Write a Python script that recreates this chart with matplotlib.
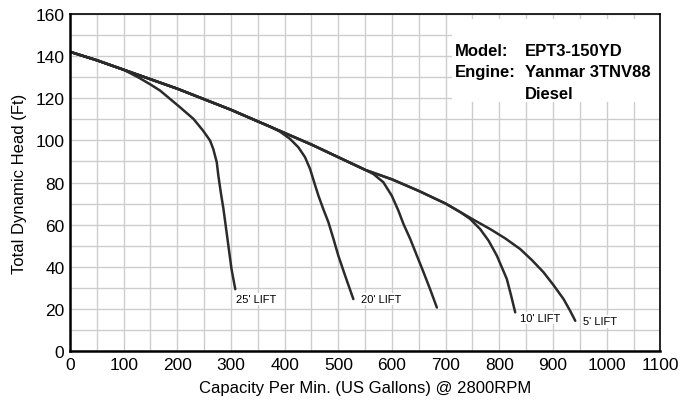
import matplotlib
matplotlib.use("Agg")
import matplotlib.pyplot as plt
from matplotlib.patches import Rectangle

plt.rcParams["font.family"] = ["Liberation Sans", "DejaVu Sans"]

# shared part of the pump curve (before the lift curves split off)
env_x = [0, 50, 100, 150, 200, 250, 300, 350, 400, 450, 500, 550, 600, 650, 700, 727]
env_y = [142, 138, 133.5, 129, 124.5, 119.5, 114.5, 109, 103.5, 98, 92, 86, 81.5, 76, 70, 66]

# tails of each lift curve
lift25_x = [100, 130, 150, 168, 205, 230, 248, 261, 267, 273.5, 276.5, 281, 286, 291, 296, 301, 308]
lift25_y = [133.5, 129.5, 126.5, 123.6, 115.7, 110.2, 104.6, 99.9, 95.9, 89.6, 83.2, 75.3, 67.4, 57.9, 48.4, 38.9, 29.4]
lift20_x = [373, 391.5, 410, 425.6, 438, 447.4, 455, 463, 472, 481.6, 491, 500, 512.7, 528]
lift20_y = [106.5, 104.1, 100.7, 96.7, 92, 86.4, 80.1, 73.7, 67.4, 61.1, 53.2, 45.3, 35.8, 24.7]
lift15_x = [547, 565.5, 584, 599.7, 612, 621.4, 634, 646.4, 658.8, 671, 683.6]
lift15_y = [86.4, 84, 80.1, 73.7, 66.6, 60.3, 53.2, 45.3, 37.4, 29.4, 20.7]
lift10_x = [727, 745.7, 764.3, 780, 795.4, 804.8, 814, 822, 829.6]
lift10_y = [66, 62.7, 57.9, 52.4, 45.3, 39.7, 34.2, 26.3, 18.4]
lift5_x = [727, 755, 783, 811, 839, 860.7, 882.4, 901, 919.7, 932, 941.5]
lift5_y = [66, 61.9, 57.9, 53.5, 48.4, 43.2, 37.4, 31.3, 24.7, 19.1, 14.4]

labels = ["25' LIFT", "20' LIFT", "10' LIFT", "5' LIFT"]
label_x = [309, 542, 839, 955]
label_y = [24.7, 24.7, 15.7, 14.1]


def branch(tx, ty):
    # shared envelope up to the split point, then the lift tail
    xs = [x for x in env_x if x < tx[0]] + tx
    ys = [y for x, y in zip(env_x, env_y) if x < tx[0]] + ty
    return xs, ys


fig = plt.figure(figsize=(6.97, 4.02), dpi=100)
ax = fig.add_axes([0.1004, 0.124, 0.847, 0.839])

ax.set_xlim(0, 1100)
ax.set_ylim(0, 160)
ax.set_xticks(range(0, 1101, 100))
ax.set_yticks(range(0, 161, 20))
ax.set_xticks(range(0, 1101, 50), minor=True)
ax.set_yticks(range(0, 161, 10), minor=True)
ax.grid(which="both", color="#cdcdcd", linewidth=1.0)
ax.set_axisbelow(True)
ax.tick_params(which="both", length=0)
ax.tick_params(axis="both", labelsize=12.5, pad=4)

for tx, ty in [(lift25_x, lift25_y), (lift20_x, lift20_y), (lift15_x, lift15_y),
               (lift10_x, lift10_y), (lift5_x, lift5_y)]:
    xs, ys = branch(tx, ty)
    ax.plot(xs, ys, color="#2b2b2b", linewidth=1.8,
            solid_capstyle="round", solid_joinstyle="round")

for t, x, y in zip(labels, label_x, label_y):
    ax.text(x, y, t, fontsize=8, ha="left", va="center",
            bbox=dict(facecolor="white", edgecolor="none", pad=1))

# white panel with model info
ax.add_patch(Rectangle((712, 118), 388, 39.5, facecolor="white",
                       edgecolor="none", zorder=2))
info = dict(fontsize=12, fontweight="bold", va="center", zorder=3)
ax.text(718, 142.6, "Model:", **info)
ax.text(847, 142.6, "EPT3-150YD", **info)
ax.text(718, 132.6, "Engine:", **info)
ax.text(847, 132.6, "Yanmar 3TNV88", **info)
ax.text(847, 122.4, "Diesel", **info)

ax.set_xlabel("Capacity Per Min. (US Gallons) @ 2800RPM", fontsize=12, labelpad=6)
ax.set_ylabel("Total Dynamic Head (Ft)", fontsize=12, labelpad=6)

for side in ["left", "bottom"]:
    ax.spines[side].set_linewidth(1.8)
for side in ["top", "right"]:
    ax.spines[side].set_linewidth(1.2)

fig.savefig("out.png", dpi=100)
